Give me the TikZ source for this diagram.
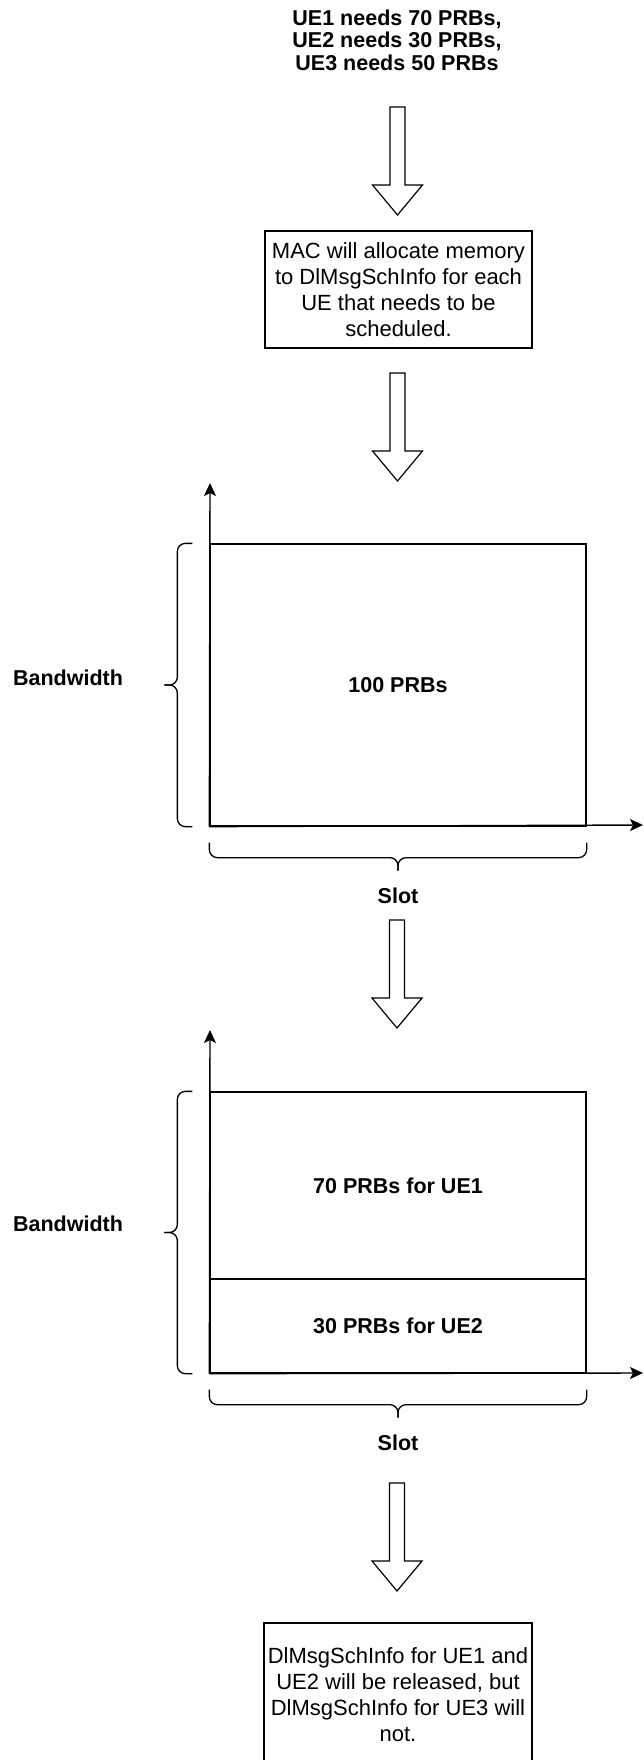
\documentclass[tikz,border=0pt]{standalone}
\usepackage{fontspec}
\setmainfont{Liberation Sans}
\usetikzlibrary{arrows.meta,calc}
\newcommand\blkarrow[3]{%
  \coordinate (#3) at (#1,#2);
  \draw[blk] ([xshift=-7.5pt]#3) -- ([xshift=7.5pt]#3) -- ([xshift=7.5pt,yshift=-78pt]#3)
    -- ([xshift=25pt,yshift=-78pt]#3) -- ([yshift=-108pt]#3) -- ([xshift=-25pt,yshift=-78pt]#3)
    -- ([xshift=-7.5pt,yshift=-78pt]#3) -- cycle;}
\newcommand\leftbrc[2]{%
  \draw[brc] (#1) -- ++(-15,0) |- ($(#1)!0.5!(#2)+(-28,0)$);
  \draw[brc] (#2) -- ++(-15,0) |- ($(#1)!0.5!(#2)+(-28,0)$);}
\newcommand\botbrc[2]{%
  \draw[brc] (#1) -- ++(0,15) -| ($(#1)!0.5!(#2)+(0,28)$);
  \draw[brc] (#2) -- ++(0,15) -| ($(#1)!0.5!(#2)+(0,28)$);}
\begin{document}
\begin{tikzpicture}[x=1pt,y=-1pt, line width=1.3pt,
  boxtext/.style={draw, align=center, font=\fontsize{22}{26}\selectfont, inner sep=0pt},
  lbl/.style={font=\fontsize{21.5}{25}\selectfont\bfseries},
  cell/.style={draw, minimum width=376pt, inner sep=0pt, lbl},
  blk/.style={draw, fill=white, line width=1.2pt, line join=miter},
  axis/.style={-{Stealth[length=13pt,width=12pt,inset=3pt]}, line width=1.4pt},
  brc/.style={rounded corners=8pt, line width=1.3pt}]
\useasboundingbox (0,0) rectangle (643,1760);
\clip (0,0) rectangle (643,1760);
\fill[white] (0,0) rectangle (643,1760);

% title
\node[font=\fontsize{21.5}{22.5}\selectfont\bfseries, align=center] (title) at (397,40)
  {UE1 needs 70 PRBs,\\UE2 needs 30 PRBs,\\UE3 needs 50 PRBs};

\blkarrow{397.5}{107}{a1}

\node[boxtext, minimum width=267pt, minimum height=117pt] (box1) at (398.5,289.5)
  {MAC will allocate memory\\to DlMsgSchInfo for each\\UE that needs to be\\scheduled.};

\blkarrow{397.5}{373}{a2}

% chart 1
\node[cell, minimum height=282pt] (r1) at (398,685) {100 PRBs};
\draw[axis] (r1.south west) -- (210,483);
\draw[axis] (r1.south west) -- (643,825);
\coordinate (l1t) at ([xshift=-17pt]r1.north west);
\coordinate (l1b) at ([xshift=-17pt]r1.south west);
\leftbrc{l1t}{l1b}
\node[lbl] (bw1) at (68,678) {Bandwidth};
\coordinate (b1l) at ([yshift=-16pt]r1.south west);
\coordinate (b1r) at ([yshift=-16pt]r1.south east);
\botbrc{b1l}{b1r}
\node[lbl] (slot1) at (398,896) {Slot};

\blkarrow{397}{920}{a3}

% chart 2
\node[cell, minimum height=187pt] (u1) at (398,1185.5) {70 PRBs for UE1};
\node[cell, minimum height=94pt] (u2) at (398,1326) {30 PRBs for UE2};
\draw[axis] (u2.south west) -- (210,1030);
\draw[axis] (u2.south west) -- (643,1373);
\coordinate (l2t) at ([xshift=-17pt]u1.north west);
\coordinate (l2b) at ([xshift=-17pt]u2.south west);
\leftbrc{l2t}{l2b}
\node[lbl] (bw2) at (68,1224) {Bandwidth};
\coordinate (b2l) at ([yshift=-16pt]u2.south west);
\coordinate (b2r) at ([yshift=-16pt]u2.south east);
\botbrc{b2l}{b2r}
\node[lbl] (slot2) at (398,1443) {Slot};

\blkarrow{397}{1483}{a4}

\node[boxtext, minimum width=268pt, minimum height=144pt] (box2) at (398,1695)
  {DlMsgSchInfo for UE1 and\\UE2 will be released, but\\DlMsgSchInfo for UE3 will\\not.};
\end{tikzpicture}
\end{document}
